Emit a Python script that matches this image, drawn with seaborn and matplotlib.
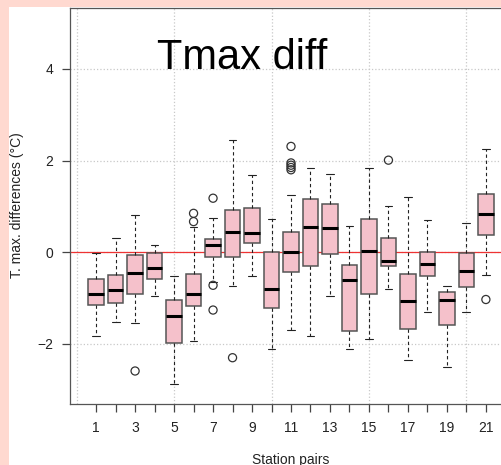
import numpy as np
import pandas as pd
import matplotlib
matplotlib.use("Agg")
import matplotlib.pyplot as plt
from matplotlib.patches import Rectangle
from matplotlib.ticker import MultipleLocator, FixedLocator
import seaborn as sns

# ---- data ----
pairs = list(range(1, 22))
whisk_lo = [-1.83, -1.52, -1.54, -0.96, -2.88, -1.93, -0.64, -0.74, -0.52, -2.10, -1.70,
            -1.83, -0.96, -2.10, -1.90, -0.79, -2.36, -1.30, -2.51, -1.30, -0.50]
q1 = [-1.15, -1.11, -0.90, -0.59, -1.97, -1.18, -0.10, -0.11, 0.21, -1.21, -0.42,
      -0.29, -0.04, -1.71, -0.90, -0.30, -1.68, -0.52, -1.58, -0.76, 0.38]
median = [-0.90, -0.82, -0.45, -0.34, -1.39, -0.91, 0.17, 0.44, 0.43, -0.79, 0.01,
          0.56, 0.54, -0.60, 0.03, -0.18, -1.06, -0.25, -1.03, -0.40, 0.84]
q3 = [-0.59, -0.50, -0.06, -0.02, -1.03, -0.47, 0.30, 0.92, 0.97, 0.01, 0.45,
      1.16, 1.05, -0.28, 0.72, 0.31, -0.48, 0.01, -0.87, -0.02, 1.27]
whisk_hi = [-0.02, 0.32, 0.81, 0.16, -0.52, 0.56, 0.75, 2.45, 1.68, 0.72, 1.24,
            1.83, 1.70, 0.57, 1.83, 1.00, 1.21, 0.71, -0.73, 0.65, 2.25]
outlier_pair = [3, 6, 6, 7, 7, 7, 8, 11, 11, 11, 11, 11, 16, 21]
outlier_val = [-2.59, 0.85, 0.67, 1.18, -0.72, -1.26, -2.30, 2.31, 1.95, 1.90, 1.85, 1.80, 2.01, -1.03]
xtick_labels = [str(p) if p % 2 == 1 else "" for p in pairs]
yticks = [-2, 0, 2, 4]

# long-form table: five-number summary per station pair
rows = []
for i, p in enumerate(pairs):
    for v in (whisk_lo[i], q1[i], median[i], q3[i], whisk_hi[i]):
        rows.append({"pair": p, "value": v})
df = pd.DataFrame(rows)
df_out = pd.DataFrame({"pair": outlier_pair, "value": outlier_val})

sns.set_theme(style="white")
plt.rcParams["font.family"] = ["Liberation Sans", "DejaVu Sans"]

W, H = 502, 465
fig = plt.figure(figsize=(W / 100, H / 100), dpi=100)
fig.patch.set_facecolor("#FFD9D0")
fig.add_artist(Rectangle((9 / W, 0), 1, 1 - 7 / H, transform=fig.transFigure,
                         facecolor="white", edgecolor="none", zorder=0))

ax = fig.add_axes([70 / W, 1 - 404 / H, (512 - 70) / W, 396 / H])
ax.set_facecolor("white")
ax.set_axisbelow(True)

edge = "#555555"
sns.boxplot(data=df, x="pair", y="value", native_scale=True, orient="x",
            whis=(0, 100), color="#F5C1CB", saturation=1, width=0.8,
            linecolor=edge, linewidth=1.1, fliersize=0,
            whiskerprops=dict(color="#222222", linestyle=(0, (3, 2.5)), linewidth=0.8),
            capprops=dict(color="#222222", linewidth=0.8),
            medianprops=dict(color="black", linewidth=2.2),
            ax=ax)
sns.scatterplot(data=df_out, x="pair", y="value", color="none", edgecolor="#333333",
                linewidth=0.9, s=34, marker="o", ax=ax, zorder=5, legend=False)

ax.axhline(0, color="#EE3333", linewidth=0.9, zorder=1.5)

ax.set_xlim(-0.34, 22.34)
ax.set_ylim(-3.31, 5.33)
ax.xaxis.set_major_locator(FixedLocator(pairs))
ax.set_xticklabels(xtick_labels)
ax.xaxis.remove_overlapping_locs = False
ax.xaxis.set_minor_locator(MultipleLocator(5))
ax.set_yticks(yticks)
ax.set_yticklabels([f"{v}" if v >= 0 else f"\u2212{-v}" for v in yticks])

ax.grid(False)
ax.xaxis.grid(True, which="minor", color="#c8c8c8", linestyle=":", linewidth=0.9)
ax.yaxis.grid(True, which="major", color="#c8c8c8", linestyle=":", linewidth=0.9)

ax.tick_params(axis="both", which="major", direction="out", length=5.8, width=0.9,
               color="#444444", labelsize=10, labelcolor="#222222", pad=6.5)
ax.tick_params(axis="x", which="minor", length=0)
ax.tick_params(axis="both", left=True, bottom=True)

for s in ax.spines.values():
    s.set_color(edge)
    s.set_linewidth(0.9)

ax.set_xlabel("")
ax.set_ylabel("")
ax.text(4.1, 4.0, "Tmax diff", fontsize=30, ha="left", va="baseline", color="black")

fig.text(17 / W, 1 - 205 / H, "T. max. differences (\u00b0C)", rotation=90,
         ha="center", va="center", fontsize=10, color="#222222")
fig.text(291 / W, 1 - 463.5 / H, "Station pairs", ha="center", va="baseline",
         fontsize=10, color="#222222")

fig.savefig("out.png", dpi=100, facecolor=fig.get_facecolor())
